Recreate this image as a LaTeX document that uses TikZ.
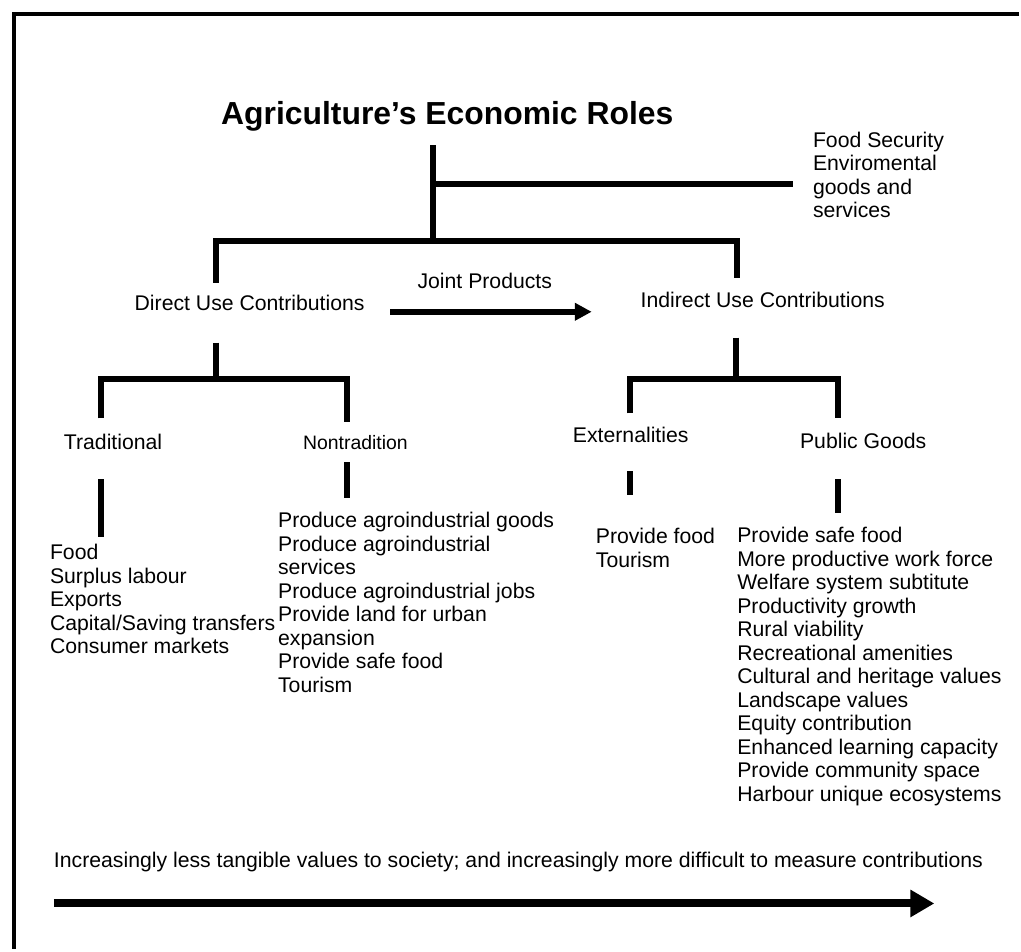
\documentclass[tikz,border=0pt]{standalone}
\usepackage{fontspec}
\setmainfont{Liberation Sans}
\usetikzlibrary{arrows.meta}
\newcommand\txtsz{\fontsize{21.3}{23.6}\selectfont}
\newcommand\smallsz{\fontsize{19.5}{22}\selectfont}
\newcommand\titlesz{\fontsize{32}{36}\bfseries\selectfont}
\newcommand\notesz{\fontsize{21.3}{23.6}\selectfont}
\newcommand\stack[1]{\begin{tabular}[t]{@{}l@{}}#1\end{tabular}}
\tikzset{
  lbl/.style={anchor=base west, inner sep=0pt, font=\txtsz},
  branch/.style={line width=6pt, line join=miter},
  frameline/.style={line width=4.5pt},
  bigarrow/.style={line width=8pt, -{Triangle[length=24pt, width=26pt]}},
  midarrow/.style={line width=6pt, -{Triangle[length=17pt, width=17pt]}},
}
\begin{document}
\begin{tikzpicture}[x=1pt, y=-1pt]
\fill[white] (-2,-2) rectangle (1023,953);
\useasboundingbox (0,0) rectangle (1021,951);
% frame (top and left edges)
\coordinate (fTR) at (1021,12);
\coordinate (fTL) at (12,12);
\coordinate (fBL) at (12,951);
\draw[frameline] (fTR) -- (fTL) -- (fBL);

% title and side note
\node[anchor=base, inner sep=0pt, font=\titlesz] (title) at (447,123) {Agriculture’s Economic Roles};
\node[lbl] (food) at (814,146) {\stack{Food Security\\Enviromental\\goods and\\services}};

% second level
\node[lbl] (direct) at (133,310) {Direct Use Contributions};
\node[lbl] (joint) at (417,288) {Joint Products};
\node[lbl] (indirect) at (641,307) {Indirect Use Contributions};

% third level
\node[lbl] (trad) at (62,449) {Traditional};
\node[lbl, font=\smallsz] (nontrad) at (302,449) {Nontradition};
\node[lbl] (ext) at (573,442) {Externalities};
\node[lbl] (pub) at (801,448) {Public Goods};

% lists
\node[lbl] (tradlist) at (48,560) {\stack{Food\\Surplus labour\\Exports\\Capital/Saving transfers\\Consumer markets}};
\node[lbl] (nonlist) at (277,528) {\stack{Produce agroindustrial goods\\Produce agroindustrial\\services\\Produce agroindustrial jobs\\Provide land for urban\\expansion\\Provide safe food\\Tourism}};
\node[lbl] (extlist) at (596,544) {\stack{Provide food\\Tourism}};
\node[lbl] (publist) at (738,543) {\stack{Provide safe food\\More productive work force\\Welfare system subtitute\\Productivity growth\\Rural viability\\Recreational amenities\\Cultural and heritage values\\Landscape values\\Equity contribution\\Enhanced learning capacity\\Provide community space\\Harbour unique ecosystems}};

\node[lbl, font=\notesz] (note) at (52,869) {Increasingly less tangible values to society; and increasingly more difficult to measure contributions};

% tree coordinates
\coordinate (rootTop) at (433,144);
\coordinate (rootMid) at (433,183);
\coordinate (rootBot) at (433,240);
\coordinate (foodEnd) at (794,183);
\coordinate (barL) at (215,240);
\coordinate (barR) at (738,240);
\coordinate (dirTop) at (215,282);
\coordinate (indTop) at (738,277);

\coordinate (dirDown) at (215,342);
\coordinate (dirBar) at (215,378);
\coordinate (dBarL) at (99,378);
\coordinate (dBarR) at (346,378);
\coordinate (tradTop) at (99,418);
\coordinate (nonTop) at (346,422);

\coordinate (indDown) at (737,337);
\coordinate (indBar) at (737,378);
\coordinate (iBarL) at (630,378);
\coordinate (iBarR) at (839,378);
\coordinate (extTop) at (630,413);
\coordinate (pubTop) at (839,418);

\coordinate (tradS1) at (99,479);
\coordinate (tradS2) at (99,537);
\coordinate (nonS1) at (346,462);
\coordinate (nonS2) at (346,498);
\coordinate (extS1) at (630,471);
\coordinate (extS2) at (630,495);
\coordinate (pubS1) at (839,479);
\coordinate (pubS2) at (839,513);

\coordinate (jointA) at (390,311);
\coordinate (jointB) at (592,311);
\coordinate (noteA) at (52,905);
\coordinate (noteB) at (936,905);

% connectors
\draw[branch] (rootTop) -- (rootBot);
\draw[branch] (rootMid) -- (foodEnd);
\draw[branch] (dirTop) -- (barL) -- (barR) -- (indTop);
\draw[branch] (dirDown) -- (dirBar);
\draw[branch] (tradTop) -- (dBarL) -- (dBarR) -- (nonTop);
\draw[branch] (indDown) -- (indBar);
\draw[branch] (extTop) -- (iBarL) -- (iBarR) -- (pubTop);
\draw[branch] (tradS1) -- (tradS2);
\draw[branch] (nonS1) -- (nonS2);
\draw[branch] (extS1) -- (extS2);
\draw[branch] (pubS1) -- (pubS2);
\draw[midarrow] (jointA) -- (jointB);
\draw[bigarrow] (noteA) -- (noteB);
\end{tikzpicture}
\end{document}
